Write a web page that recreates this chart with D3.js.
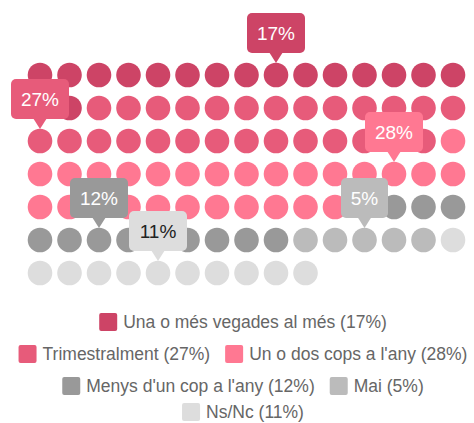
<!DOCTYPE html>
<html><head><meta charset="utf-8">
<script src="https://cdn.jsdelivr.net/npm/d3@7"></script>
<style>body{margin:0;background:#fff;}svg{display:block;font-family:"Liberation Sans",Arial,sans-serif;}</style>
</head><body><svg id="c" width="474" height="423"></svg>
<script>
const categories = ["Una o més vegades al més","Trimestralment","Un o dos cops a l'any","Menys d'un cop a l'any","Mai","Ns/Nc"];
const values = [17,27,28,12,5,11];
const colors = ["#cd4466","#e75b7a","#ff7892","#999999","#bbbbbb","#dddddd"];
const labelTextColors = ["#fff","#fff","#fff","#fff","#fff","#222"];
// index of dot (0-99) each callout points at
const calloutDot = [8,30,57,77,86,94];
const legendRows = [[0],[1,2],[3,4],[5]];

const cols = 15, nRows = 7;
const svg = d3.select("#c");
const x = d3.scaleLinear().domain([0,cols-1]).range([40,453]);
const y = d3.scaleLinear().domain([0,nRows-1]).range([75,273]);

const dots = [];
values.forEach((v,ci)=>{for(let k=0;k<v;k++)dots.push(ci);});
svg.append("g").selectAll("circle").data(dots).join("circle")
  .attr("cx",(d,i)=>x(i%cols)).attr("cy",(d,i)=>y(Math.floor(i/cols)))
  .attr("r",12.3).attr("fill",d=>colors[d]);

// callouts
const cg = svg.append("g");
values.forEach((v,ci)=>{
  const i = calloutDot[ci];
  const cx = x(i%cols), tip = y(Math.floor(i/cols)) - 12;
  const txt = v+"%";
  const w = txt.length>2 ? 58 : 47, h = 40, ph = 10;
  const g = cg.append("g");
  g.append("rect").attr("x",cx-w/2).attr("y",tip-ph-h).attr("width",w).attr("height",h)
    .attr("rx",5).attr("fill",colors[ci]);
  g.append("path").attr("d",`M${cx-7},${tip-ph-1}L${cx+7},${tip-ph-1}L${cx},${tip}Z`).attr("fill",colors[ci]);
  g.append("text").attr("x",cx).attr("y",tip-ph-h/2+7).attr("text-anchor","middle")
    .attr("font-size",19).attr("fill",labelTextColors[ci]).text(txt);
});

// legend
const lg = svg.append("g");
const rowY = [322,354,386,412];
legendRows.forEach((row,ri)=>{
  const rg = lg.append("g");
  let cur = 0;
  row.forEach(ci=>{
    const it = rg.append("g").attr("transform",`translate(${cur},0)`);
    it.append("rect").attr("x",0).attr("y",-9).attr("width",18).attr("height",18).attr("rx",2).attr("fill",colors[ci]);
    const t = it.append("text").attr("x",24).attr("y",6).attr("font-size",17.5).attr("fill","#666")
      .text(categories[ci]+" ("+values[ci]+"%)");
    cur += 24 + t.node().getComputedTextLength() + 15;
  });
  const total = cur - 15;
  rg.attr("transform",`translate(${(474-total)/2+6},${rowY[ri]})`);
});
</script></body></html>
